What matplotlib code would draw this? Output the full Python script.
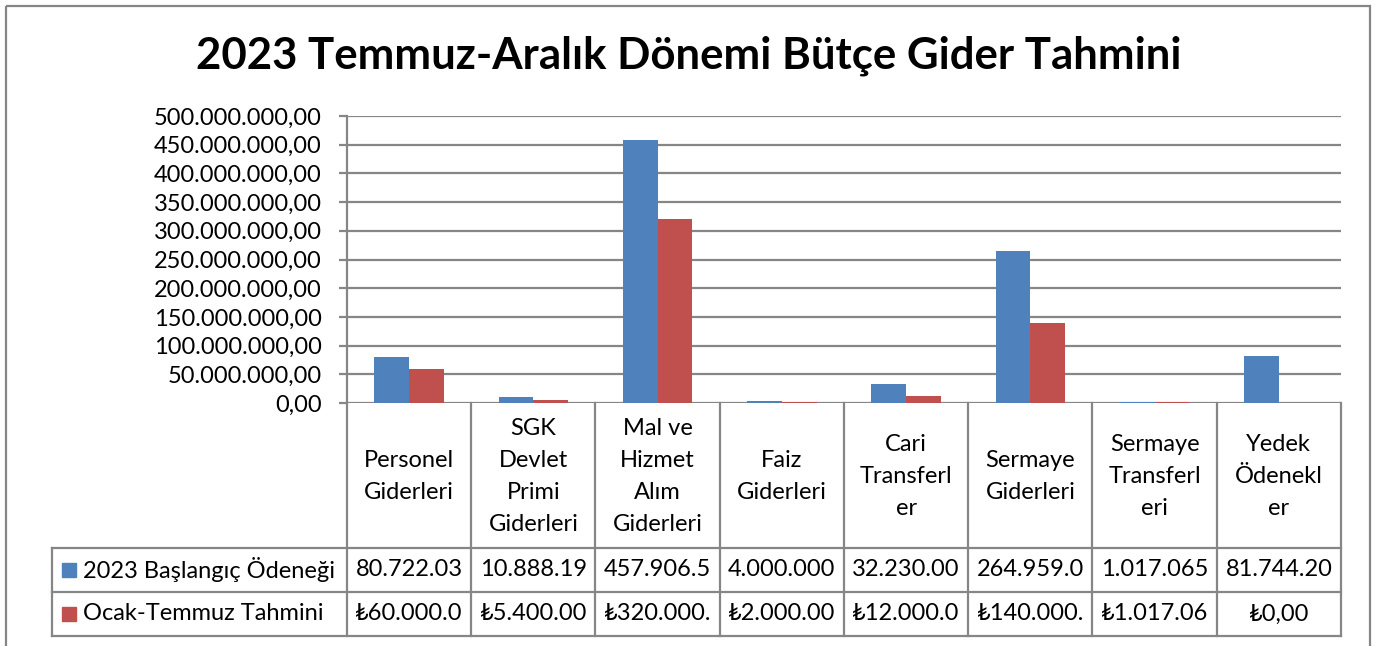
import matplotlib
matplotlib.use("Agg")
import matplotlib.pyplot as plt
from matplotlib.patches import Rectangle
import numpy as np

# ---- data ----
categories = ["Personel\nGiderleri", "SGK\nDevlet\nPrimi\nGiderleri", "Mal ve\nHizmet\nAlım\nGiderleri",
              "Faiz\nGiderleri", "Cari\nTransferl\ner", "Sermaye\nGiderleri", "Sermaye\nTransferl\neri",
              "Yedek\nÖdenekl\ner"]
series_names = ["2023 Başlangıç Ödeneği", "Ocak-Temmuz Tahmini"]
baslangic = [80722030, 10888190, 457906500, 4000000, 32230000, 264959000, 1017065, 81744200]
tahmin = [60000000, 5400000, 320000000, 2000000, 12000000, 140000000, 1017060, 0]
y_ticks = [0, 50e6, 100e6, 150e6, 200e6, 250e6, 300e6, 350e6, 400e6, 450e6, 500e6]
title = "2023 Temmuz-Aralık Dönemi Bütçe Gider Tahmini"

colors = ["#4F81BD", "#C0504D"]
grid_c = "#868686"
FONT = ["Lato", "DejaVu Sans"]
plt.rcParams["font.family"] = FONT
FS = 17


def fmt_tr(v):
    return f"{v:,.2f}".replace(",", "X").replace(".", ",").replace("X", ".")


def cell(v, cur=""):
    s = cur + fmt_tr(v)
    return s if len(s) <= 9 else s[:9]


W, H = 1381, 646
fig = plt.figure(figsize=(W / 100, H / 100), dpi=100)

# overlay in pixel coordinates
ov = fig.add_axes([0, 0, 1, 1])
ov.set_xlim(0, W)
ov.set_ylim(H, 0)
ov.axis("off")

# outer chart border
ov.add_patch(Rectangle((6.5, 5.5), 1370 - 6.5, 700, fill=False, ec=grid_c, lw=1.6))

# plot area
L, R, T, B = 347, 1341, 116, 403
ax = fig.add_axes([L / W, (H - B) / H, (R - L) / W, (B - T) / H])
ax.patch.set_alpha(0)
n = len(categories)
x = np.arange(n)
bw = 0.28
ax.bar(x - bw / 2, baslangic, bw, color=colors[0], zorder=3)
ax.bar(x + bw / 2, tahmin, bw, color=colors[1], zorder=3)
ax.set_xlim(-0.5, n - 0.5)
ax.set_ylim(0, 500e6)
ax.set_yticks(y_ticks)
ax.set_yticklabels([fmt_tr(v) for v in y_ticks], fontsize=FS)
ax.set_xticks([])
ax.grid(axis="y", color=grid_c, lw=1.6, zorder=1)
for s in ["top", "right", "bottom"]:
    ax.spines[s].set_visible(False)
ax.spines["left"].set_color(grid_c)
ax.spines["left"].set_linewidth(1.6)
ax.tick_params(axis="y", direction="out", length=6, width=1.6, color=grid_c, pad=12)

# title
ov.text(689, 56, title, ha="center", va="center", fontsize=31.5, fontweight="bold")

# data table
cw = (R - L) / n
row_top, row1, row2, row3 = B, 548, 592, 636
leg_left = 52
lw_t = 1.6
ov.plot([leg_left, R], [row1, row1], color=grid_c, lw=lw_t)
ov.plot([leg_left, R], [row2, row2], color=grid_c, lw=lw_t)
ov.plot([leg_left, R], [row3, row3], color=grid_c, lw=lw_t)
ov.plot([leg_left, leg_left], [row1, row3], color=grid_c, lw=lw_t)
for i in range(n + 1):
    xx = L + i * cw
    ov.plot([xx, xx], [row_top, row3], color=grid_c, lw=lw_t)

for i, c in enumerate(categories):
    ov.text(L + (i + 0.5) * cw, (row_top + row1) / 2 + 1, c, ha="center", va="center",
            fontsize=FS, linespacing=1.66)
    ov.text(L + (i + 0.5) * cw, (row1 + row2) / 2, cell(baslangic[i]), ha="center", va="center", fontsize=FS)
    ov.text(L + (i + 0.5) * cw, (row2 + row3) / 2, cell(tahmin[i], "₺"), ha="center", va="center", fontsize=FS)

for j, (name, col) in enumerate(zip(series_names, colors)):
    yc = (row1 + row2) / 2 if j == 0 else (row2 + row3) / 2
    ov.add_patch(Rectangle((62, yc - 7), 14, 14, color=col))
    ov.text(83, yc, name, ha="left", va="center", fontsize=FS)

fig.savefig("out.png", dpi=100)
